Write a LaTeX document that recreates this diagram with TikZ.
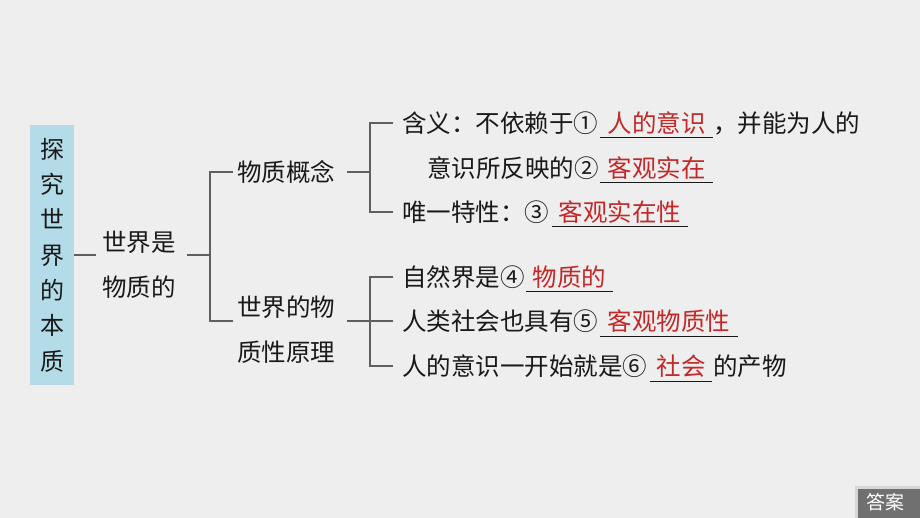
\documentclass[tikz,border=0pt]{standalone}
\usepackage{fontspec}
\newfontfamily\cjk{Noto Sans CJK SC}
\definecolor{bggray}{RGB}{238,238,238}
\definecolor{boxblue}{RGB}{180,220,232}
\definecolor{linegray}{RGB}{95,95,95}
\definecolor{textblack}{RGB}{25,25,25}
\definecolor{ansred}{RGB}{196,40,40}
\definecolor{btngray}{RGB}{112,112,112}
\definecolor{btnrim}{RGB}{214,214,214}
\begin{document}
\begin{tikzpicture}[x=1pt,y=-1pt,
  txt/.style={font=\cjk\fontsize{24.5}{30}\selectfont, text=textblack, inner sep=0pt, anchor=west, text height=21.5pt, text depth=3pt},
  multi/.style={font=\cjk\fontsize{24.5}{45}\selectfont, text=textblack, inner sep=0pt, align=left, anchor=west},
  ans/.style={font=\cjk\fontsize{24.5}{30}\selectfont, text=ansred, inner sep=0pt, anchor=west, text height=21.5pt, text depth=3pt},
  conn/.style={draw=linegray, line width=1.1pt},
  uline/.style={draw=textblack, line width=0.9pt}]
\fill[bggray] (0,0) rectangle (920,518);
\useasboundingbox (0,0) rectangle (920,518);

% root
\node[fill=boxblue, minimum width=44pt, minimum height=260pt, inner sep=0pt,
      font=\cjk\fontsize{24}{35.3}\selectfont, text=textblack, align=center] (root) at (52,255)
  {探\\究\\世\\界\\的\\本\\质};

% level 2 / 3
\node[multi] (n2) at (102,264.5) {世界是\\物质的};
\node[txt] (n3a) at (237,172) {物质概念};
\node[multi] (n3b) at (237,330) {世界的物\\质性原理};

% items
\node[txt] (p1) at (402,123) {含义：不依赖于①};
\node[ans, minimum width=113pt] (a1) at (600,123) {人的意识};
\node[txt] (p1b) at (713,123) {，并能为人的};
\node[txt] (p2) at (427,168) {意识所反映的②};
\node[ans, minimum width=113pt] (a2) at (600,168) {客观实在};
\node[txt] (p3) at (402,212) {唯一特性：③};
\node[ans, minimum width=136pt] (a3) at (552,212) {客观实在性};

\node[txt] (p4) at (402,277) {自然界是④};
\node[ans, minimum width=87pt] (a4) at (526,277) {物质的};
\node[txt] (p5) at (402,321) {人类社会也具有⑤};
\node[ans, minimum width=138pt] (a5) at (600,321) {客观物质性};
\node[txt] (p6) at (402,366) {人的意识一开始就是⑥};
\node[ans, minimum width=62pt] (a6) at (650,366) {社会};
\node[txt] (p6b) at (713,366) {的产物};

% underlines
\foreach \a in {a1,a2,a3,a4,a5,a6}
  \draw[uline] ([yshift=-2.5pt]\a.south west) -- ([yshift=-2.5pt]\a.south east);

% junctions
\coordinate (j1) at (210,255);
\coordinate (j2) at (370,172);
\coordinate (j3) at (370,321);

% connectors
\draw[conn] (root.east) -- ([xshift=-6pt]n2.west |- root.east);
\draw[conn] ([xshift=11pt]n2.east |- j1) -- (j1);
\draw[conn] ([xshift=-4pt]n3a.west) -| (j1) |- ([xshift=-4pt]n3b.west |- j3);

\draw[conn] ([xshift=12pt]n3a.east) -- (j2);
\draw[conn] ([xshift=-9pt]p1.west) -| (j2) |- ([xshift=-9pt]p3.west);

\draw[conn] ([xshift=12pt]n3b.east |- j3) -- (j3);
\draw[conn] ([xshift=-9pt]p4.west) -| (j3) |- ([xshift=-9pt]p6.west);
\draw[conn] (j3) -- ([xshift=-9pt]p5.west);

% answer button
\node[fill=btngray, draw=btnrim, line width=2.5pt, minimum width=72pt, minimum height=38pt,
      inner sep=0pt, anchor=north west] (btn) at (855,486) {};
\node[font=\cjk\fontsize{19}{22}\selectfont, text=white, inner sep=0pt, text height=16.5pt, text depth=2.5pt] (btntxt) at (885,502) {答案};
\end{tikzpicture}
\end{document}
